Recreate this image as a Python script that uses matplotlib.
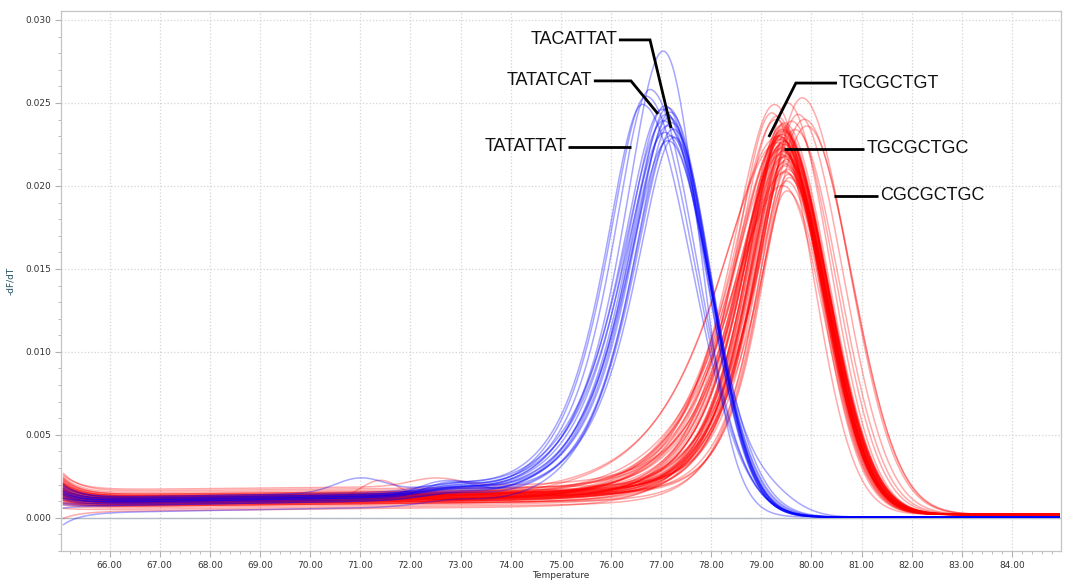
import numpy as np
import matplotlib
matplotlib.use('Agg')
import matplotlib.pyplot as plt
from matplotlib.ticker import MultipleLocator, FormatStrFormatter

# Schmelzkurven (-dF/dT), Werte aus dem Bild abgelesen
# blaue Proben: Peak-Temperatur, Peak-Hoehe, Breite links/rechts, Untergrund Start/Plateau
blue_tm = [77.06, 76.80, 76.72, 76.65, 77.10, 77.15, 77.05, 77.20, 77.12,
           77.18, 77.08, 77.22, 77.15, 77.26, 77.10, 77.20, 77.28, 77.16]
blue_peak = [0.0278, 0.0255, 0.0251, 0.0246, 0.0245, 0.0244, 0.0243, 0.0241, 0.0240,
             0.0238, 0.0236, 0.0235, 0.0233, 0.0231, 0.0229, 0.0227, 0.0226, 0.0224]
blue_sl = [0.74, 0.70, 0.72, 0.70, 0.76, 0.74, 0.78, 0.72, 0.76,
           0.74, 0.80, 0.72, 0.76, 0.74, 0.80, 0.74, 0.72, 0.78]
blue_sr = [0.70, 0.92, 0.96, 0.99, 0.81, 0.79, 0.85, 0.77, 0.83,
           0.80, 0.89, 0.77, 0.83, 0.77, 0.91, 0.81, 0.75, 0.85]
blue_b0 = [0.0015, 0.0018, 0.0012, 0.0020, 0.0016, 0.0009, 0.0014, 0.0017, 0.0006,
           0.0013, 0.0019, 0.0011, 0.0015, 0.0008, 0.0016, -0.0004, 0.0014, 0.0012]
blue_b1 = [0.0010, 0.0011, 0.0009, 0.0012, 0.0010, 0.0008, 0.0009, 0.0011, 0.0007,
           0.0009, 0.0012, 0.0008, 0.0010, 0.0007, 0.0011, 0.0003, 0.0010, 0.0009]

# rote Proben
red_tm = [79.45, 79.48, 79.42, 79.50, 79.46, 79.40, 79.52, 79.44, 79.47, 79.43,
          79.49, 79.38, 79.55, 79.45, 79.41, 79.50, 79.44, 79.47, 79.39, 79.46,
          79.53, 79.42, 79.48, 79.36, 79.51, 79.44, 79.46, 79.40, 79.49, 79.43,
          79.47, 79.57, 79.45, 79.32, 79.41, 79.50, 79.44, 79.48, 79.42, 79.46,
          79.33, 79.22, 79.28, 79.53, 79.62, 79.68, 79.75, 79.83, 79.88, 79.92,
          79.45, 79.47, 79.43, 79.50, 79.46, 79.38, 79.52, 79.44, 79.41, 79.48]
red_peak = [0.0228, 0.0221, 0.0232, 0.0215, 0.0225, 0.0219, 0.0212, 0.0230, 0.0223, 0.0217,
            0.0208, 0.0226, 0.0203, 0.0229, 0.0220, 0.0214, 0.0233, 0.0218, 0.0224, 0.0210,
            0.0206, 0.0227, 0.0216, 0.0222, 0.0199, 0.0231, 0.0213, 0.0225, 0.0205, 0.0219,
            0.0234, 0.0201, 0.0222, 0.0236, 0.0218, 0.0209, 0.0227, 0.0214, 0.0224, 0.0196,
            0.0238, 0.0240, 0.0245, 0.0246, 0.0235, 0.0230, 0.0239, 0.0249, 0.0236, 0.0232,
            0.0221, 0.0211, 0.0229, 0.0204, 0.0217, 0.0226, 0.0193, 0.0230, 0.0215, 0.0223]
red_sl = [0.70, 0.65, 0.77, 0.60, 0.83, 0.69, 0.58, 0.73, 0.81, 0.66,
          0.63, 0.86, 0.56, 0.70, 0.79, 0.62, 0.76, 0.69, 0.90, 0.67,
          0.58, 0.74, 0.65, 1.10, 0.60, 0.72, 0.80, 0.94, 0.63, 0.70,
          0.67, 0.56, 0.77, 0.83, 0.95, 0.65, 0.73, 0.69, 0.81, 1.02,
          0.77, 0.70, 0.81, 0.65, 0.69, 0.70, 0.73, 0.77, 0.83, 0.81,
          0.86, 0.62, 0.70, 0.98, 0.66, 1.08, 0.59, 0.76, 0.88, 0.69]
red_sr = [0.87, 0.85, 0.89, 0.83, 0.88, 0.85, 0.81, 0.89, 0.86, 0.84,
          0.82, 0.88, 0.81, 0.87, 0.85, 0.83, 0.89, 0.85, 0.87, 0.83,
          0.81, 0.88, 0.84, 0.86, 0.80, 0.89, 0.85, 0.87, 0.82, 0.85,
          0.88, 0.81, 0.86, 0.85, 0.85, 0.83, 0.87, 0.84, 0.86, 0.80,
          0.83, 0.81, 0.83, 0.86, 0.87, 0.88, 0.89, 0.92, 0.93, 0.91,
          0.86, 0.82, 0.88, 0.81, 0.85, 0.85, 0.79, 0.88, 0.84, 0.86]
red_b0 = [0.0012, 0.0018, 0.0008, 0.0022, 0.0015, 0.0010, 0.0025, 0.0013, 0.0017, 0.0006,
          0.0020, 0.0011, 0.0016, 0.0009, 0.0023, 0.0014, 0.0019, 0.0007, 0.0012, 0.0021,
          0.0015, 0.0010, 0.0018, 0.0013, 0.0004, 0.0016, 0.0024, 0.0011, 0.0019, 0.0008,
          0.0014, 0.0017, 0.0012, 0.0020, 0.0009, 0.0015, 0.0013, 0.0022, 0.0010, 0.0016,
          0.0018, 0.0012, 0.0014, 0.0011, 0.0019, 0.0007, 0.0015, 0.0013, 0.0017, 0.0010,
          0.0021, 0.0014, -0.0002, 0.0016, 0.0012, 0.0018, 0.0009, 0.0015, 0.0011, 0.0019]
red_b1 = [0.0008, 0.0010, 0.0006, 0.0012, 0.0009, 0.0007, 0.0014, 0.0008, 0.0010, 0.0004,
          0.0011, 0.0007, 0.0009, 0.0006, 0.0013, 0.0008, 0.0010, 0.0005, 0.0007, 0.0011,
          0.0009, 0.0006, 0.0010, 0.0008, 0.0003, 0.0009, 0.0015, 0.0007, 0.0011, 0.0005,
          0.0008, 0.0010, 0.0007, 0.0011, 0.0006, 0.0009, 0.0008, 0.0012, 0.0006, 0.0009,
          0.0010, 0.0007, 0.0008, 0.0007, 0.0010, 0.0005, 0.0009, 0.0008, 0.0010, 0.0006,
          0.0012, 0.0008, 0.0002, 0.0009, 0.0007, 0.0010, 0.0005, 0.0009, 0.0007, 0.0011]

# einzelne Buckel / Schultern einzelner Kurven
bump_set = ['blue', 'blue', 'blue', 'blue', 'red', 'red']
bump_curve = [3, 7, 11, 2, 5, 26]
bump_temp = [71.0, 79.0, 72.8, 72.6, 71.4, 72.5]
bump_height = [0.0009, 0.0016, 0.0006, 0.0005, 0.0012, 0.0005]
bump_width = [0.5, 0.6, 0.5, 0.5, 0.4, 0.5]

# Beschriftungen: Text, Textposition, Linie (x-Werte, y-Werte)
label_text = ['TACATTAT', 'TATATCAT', 'TATATTAT', 'TGCGCTGT', 'TGCGCTGC', 'CGCGCTGC']
label_x = [76.13, 75.63, 75.11, 80.55, 81.10, 81.38]
label_y = [0.0288, 0.02633, 0.02235, 0.0262, 0.02223, 0.0194]
label_ha = ['right', 'right', 'right', 'left', 'left', 'left']
line_x = [[76.16, 76.78, 77.20], [75.66, 76.40, 76.94], [75.14, 76.40],
          [80.51, 79.69, 79.15], [81.05, 79.45], [81.33, 80.45]]
line_y = [[0.0288, 0.0288, 0.02349], [0.02633, 0.02633, 0.02434], [0.02235, 0.02235],
          [0.0262, 0.0262, 0.02295], [0.02223, 0.02223], [0.0194, 0.0194]]

temps = np.linspace(65.08, 84.94, 800)


def melt_curve(t, tm, h, sl, sr, b0, b1, ramp, floor):
    # Untergrund: Anfangsrauschen, leichter Anstieg, faellt nach dem Peak weg
    bg = b1 + ramp * (t - 66) + (b0 - b1) * np.exp(-(t - t[0]) / 0.35)
    bg = bg / (1 + np.exp((t - tm) / 0.5))
    d = t - tm
    # links flacher Auslauf, rechts steiler Abfall
    left = 1 / np.cosh(np.minimum(d, 0) / sl)
    right = np.exp(-0.5 * (np.maximum(d, 0) / sr) ** 2)
    peak = (h - b1 / 2) * np.where(d < 0, left, right)
    return peak + bg + floor


def add_bumps(y, setname, i):
    for k in range(len(bump_set)):
        if bump_set[k] == setname and bump_curve[k] == i:
            y = y + bump_height[k] * np.exp(-0.5 * ((temps - bump_temp[k]) / bump_width[k]) ** 2)
    return y


fig = plt.figure(figsize=(10.67, 5.81), dpi=100)
ax = fig.add_axes([0.0572, 0.0516, 0.9372, 0.9294])

ax.axhline(0, color='#b4bac6', lw=1.0, zorder=1)

for i in range(len(red_tm)):
    y = melt_curve(temps, red_tm[i], red_peak[i], red_sl[i], red_sr[i],
                   red_b0[i], red_b1[i], 0.00003, 0.0002)
    y = add_bumps(y, 'red', i)
    ax.plot(temps, y, color='#ff0000', alpha=0.33, lw=1.1, zorder=2)

for i in range(len(blue_tm)):
    y = melt_curve(temps, blue_tm[i], blue_peak[i], blue_sl[i], blue_sr[i],
                   blue_b0[i], blue_b1[i], 0.00005, 0.00004)
    y = y + 0.0003 * np.exp(-0.5 * ((temps - 72.8) / 0.6) ** 2)
    y = add_bumps(y, 'blue', i)
    ax.plot(temps, y, color='#0000ff', alpha=0.35, lw=1.1, zorder=3)

# Beschriftungslinien
for k in range(len(label_text)):
    ax.plot(line_x[k], line_y[k], color='black', lw=2.0, zorder=5,
            solid_capstyle='butt', solid_joinstyle='miter')
    ax.text(label_x[k], label_y[k], label_text[k], ha=label_ha[k], va='center',
            fontsize=13, family='Liberation Sans', color='#111111', zorder=6)

ax.set_xlim(65.03, 84.98)
ax.set_ylim(-0.002, 0.03054)
ax.xaxis.set_major_locator(MultipleLocator(1.0))
ax.xaxis.set_minor_locator(MultipleLocator(0.2))
ax.yaxis.set_major_locator(MultipleLocator(0.005))
ax.yaxis.set_minor_locator(MultipleLocator(0.001))
ax.xaxis.set_major_formatter(FormatStrFormatter('%.2f'))
ax.yaxis.set_major_formatter(FormatStrFormatter('%.3f'))

ax.grid(True, which='major', color='#d4d4d4', ls=':', lw=0.9, zorder=0)
ax.set_axisbelow(True)
for sp in ax.spines.values():
    sp.set_color('#c4c4c4')
    sp.set_linewidth(0.9)

ax.tick_params(axis='both', which='major', labelsize=6.5, labelcolor='#333333',
               color='#b0b0b0', length=4, width=0.8, pad=3)
ax.tick_params(axis='both', which='minor', color='#b0b0b0', length=2, width=0.6)

ax.set_xlabel('Temperature', fontsize=6.5, color='#333333', labelpad=1)
ax.set_ylabel('-dF/dT', fontsize=6.5, color='#24505e')
ax.yaxis.set_label_coords(-0.046, 0.5)

plt.savefig('out.png', dpi=100)
